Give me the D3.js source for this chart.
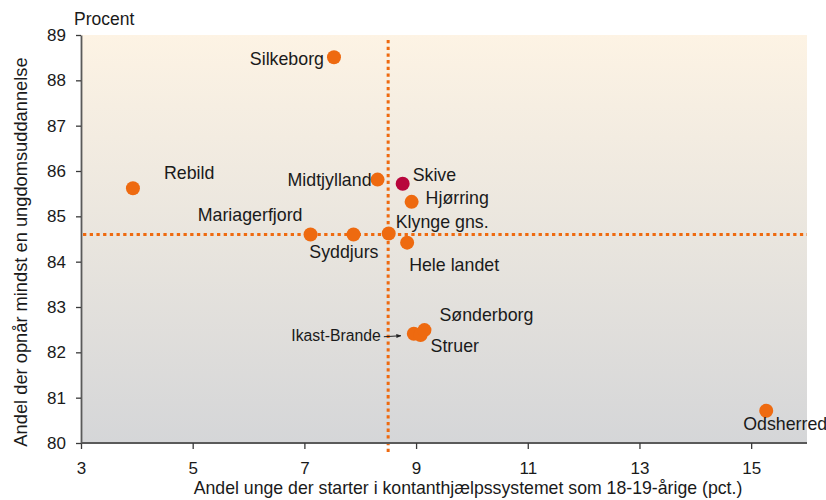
<!DOCTYPE html>
<html><head><meta charset="utf-8">
<script src="https://cdn.jsdelivr.net/npm/d3@7"></script>
<style>
body{margin:0;background:#fff;}
text{font-family:"Liberation Sans",Arial,sans-serif;fill:#1a1a1a;}
</style></head>
<body>
<svg id="chart" width="826" height="500"></svg>
<script>
const names = ["Silkeborg","Rebild","Midtjylland","Skive","Hjørring","Mariagerfjord","Syddjurs","Klynge gns.","Hele landet","Ikast-Brande","Struer","Sønderborg","Odsherred"];
const xValues = [7.53, 3.93, 8.31, 8.76, 8.92, 7.11, 7.88, 8.51, 8.84, 8.96, 9.08, 9.15, 15.27];
const yValues = [88.51, 85.62, 85.81, 85.72, 85.32, 84.60, 84.60, 84.62, 84.42, 82.41, 82.38, 82.49, 80.71];
const highlight = ["Skive"];
const xTicks = [3,5,7,9,11,13,15];
const yTicks = [80,81,82,83,84,85,86,87,88,89];
const refX = 8.5, refY = 84.6;
const xTitle = "Andel unge der starter i kontanthjælpssystemet som 18-19-årige (pct.)";
const yTitle = "Andel der opnår mindst en ungdomsuddannelse";
const unitLabel = "Procent";

// label placement (styling, pixel offsets from point)
const labelLayout = {
  "Silkeborg":{dx:-10,dy:8,anchor:"end"},
  "Rebild":{dx:31,dy:-9,anchor:"start"},
  "Midtjylland":{dx:-6,dy:6,anchor:"end"},
  "Skive":{dx:10,dy:-3,anchor:"start"},
  "Hjørring":{dx:14,dy:2,anchor:"start"},
  "Mariagerfjord":{dx:-8,dy:-13,anchor:"end"},
  "Syddjurs":{dx:25,dy:24,anchor:"end"},
  "Klynge gns.":{dx:7,dy:-6,anchor:"start"},
  "Hele landet":{dx:2,dy:28,anchor:"start"},
  "Ikast-Brande":{dx:-33,dy:7.5,anchor:"end",size:15.8,arrow:true},
  "Struer":{dx:10,dy:17,anchor:"start"},
  "Sønderborg":{dx:15,dy:-9,anchor:"start"},
  "Odsherred":{dx:-23,dy:19,anchor:"start"}
};

const data = names.map((n,i)=>({name:n,x:xValues[i],y:yValues[i]}));
const svg = d3.select("#chart");
const m = {left:81, right:19, top:35, bottom:57};
const W = 826, H = 500;
const x = d3.scaleLinear().domain([3,16]).range([m.left, W-m.right]);
const y = d3.scaleLinear().domain([80,89]).range([H-m.bottom, m.top]);

const defs = svg.append("defs");
const grad = defs.append("linearGradient").attr("id","bg").attr("x1",0).attr("y1",0).attr("x2",0).attr("y2",1);
grad.append("stop").attr("offset","0%").attr("stop-color","#fdf3e4");
grad.append("stop").attr("offset","50%").attr("stop-color","#e9e5de");
grad.append("stop").attr("offset","100%").attr("stop-color","#d5d6d8");
const mk = defs.append("marker").attr("id","arr").attr("viewBox","0 0 10 10").attr("refX",9).attr("refY",5)
  .attr("markerWidth",5).attr("markerHeight",5).attr("orient","auto");
mk.append("path").attr("d","M0,1L10,5L0,9Z").attr("fill","#222");

svg.append("rect").attr("x",x(3)).attr("y",y(89)).attr("width",x(16)-x(3)).attr("height",y(80)-y(89)).attr("fill","url(#bg)");

// reference lines
svg.append("line").attr("x1",x(refX)).attr("x2",x(refX)).attr("y1",y(89)+5).attr("y2",y(80)+9)
  .attr("stroke","#ee6a10").attr("stroke-width",3).attr("stroke-dasharray","3.3,3.4");
svg.append("line").attr("x1",x(3)+2).attr("x2",x(16)).attr("y1",y(refY)).attr("y2",y(refY))
  .attr("stroke","#ee6a10").attr("stroke-width",3).attr("stroke-dasharray","3.3,3.4");

// axes
const xAxis = svg.append("g").attr("transform",`translate(0,${y(80)})`)
  .call(d3.axisBottom(x).tickValues(xTicks).tickSize(6).tickPadding(13).tickSizeOuter(0));
const yAxis = svg.append("g").attr("transform",`translate(${x(3)},0)`)
  .call(d3.axisLeft(y).tickValues(yTicks).tickSize(5).tickPadding(10).tickSizeOuter(0));
[xAxis,yAxis].forEach(g=>{
  g.select(".domain").attr("stroke","#5a5a5a").attr("stroke-width",1.8);
  g.selectAll(".tick line").attr("stroke","#3a3a3a").attr("stroke-width",1.3);
  g.selectAll(".tick text").attr("font-size",17).attr("fill","#1a1a1a").attr("font-family","Liberation Sans, Arial, sans-serif");
});
xAxis.select(".domain").attr("d",`M${x(3)},0H${x(16)}`);

// titles
svg.append("text").attr("x",74).attr("y",25).attr("font-size",17.5).text(unitLabel);
svg.append("text").attr("x",468).attr("y",494).attr("text-anchor","middle").attr("font-size",17.7).text(xTitle);
svg.append("text").attr("transform",`translate(27,252) rotate(-90)`).attr("text-anchor","middle").attr("font-size",18.3).text(yTitle);

// points
svg.append("g").selectAll("circle").data(data).join("circle")
  .attr("cx",d=>x(d.x)).attr("cy",d=>y(d.y)).attr("r",7)
  .attr("fill",d=>highlight.includes(d.name)?"#b8063c":"#ee6a10");

// labels
const lg = svg.append("g");
data.forEach(d=>{
  const L = labelLayout[d.name];
  lg.append("text").attr("x",x(d.x)+L.dx).attr("y",y(d.y)+L.dy).attr("text-anchor",L.anchor)
    .attr("font-size",L.size||17.8).text(d.name);
  if(L.arrow){
    lg.append("line").attr("x1",x(d.x)+L.dx+3).attr("y1",y(d.y)+L.dy-4.5)
      .attr("x2",x(d.x)-13).attr("y2",y(d.y)+L.dy-5.5)
      .attr("stroke","#222").attr("stroke-width",1).attr("marker-end","url(#arr)");
  }
});
</script>
</body></html>
